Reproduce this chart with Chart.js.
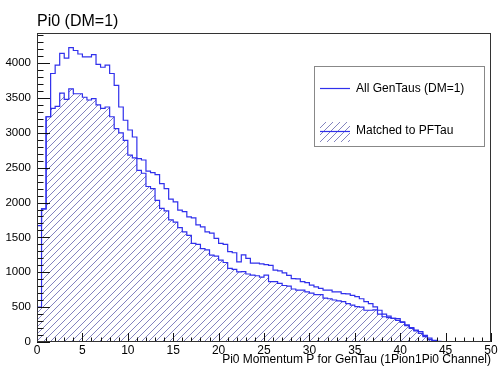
<!DOCTYPE html>
<html><head><meta charset="utf-8">
<script src="https://cdn.jsdelivr.net/npm/chart.js@4.4.1/dist/chart.umd.min.js"></script>
<style>html,body{margin:0;padding:0;background:#fff;}#wrap{width:499px;height:368px;}</style>
</head><body><div id="wrap"><canvas id="c" width="499" height="368"></canvas></div>
<script>
// ---- data ----
const chartTitle = 'Pi0 (DM=1)';
const xAxisTitle = 'Pi0 Momentum P for GenTau (1Pion1Pi0 Channel)';
const seriesLabels = ['All GenTaus (DM=1)', 'Matched to PFTau'];
const binLowEdges = [0,0.5,1,1.5,2,2.5,3,3.5,4,4.5,5,5.5,6,6.5,7,7.5,8,8.5,9,9.5,
 10,10.5,11,11.5,12,12.5,13,13.5,14,14.5,15,15.5,16,16.5,17,17.5,18,18.5,19,19.5,
 20,20.5,21,21.5,22,22.5,23,23.5,24,24.5,25,25.5,26,26.5,27,27.5,28,28.5,29,29.5,
 30,30.5,31,31.5,32,32.5,33,33.5,34,34.5,35,35.5,36,36.5,37,37.5,38,38.5,39,39.5,
 40,40.5,41,41.5,42,42.5,43,43.5,44,44.5,45,45.5,46,46.5,47,47.5,48,48.5,49,49.5];
const lastBinUpEdge = 50;
const allGenTaus = [1670,1910,3230,3850,3970,4140,4070,4220,4180,4130,
 4090,4090,4120,3980,3940,3970,3850,3680,3370,3180,
 3040,2940,2630,2610,2450,2430,2400,2270,2200,2050,
 2010,1890,1870,1795,1780,1680,1650,1580,1560,1485,
 1415,1400,1295,1280,1150,1250,1200,1130,1130,1120,
 1110,1100,1030,1020,990,955,910,905,865,850,
 815,790,770,745,745,720,720,695,690,670,
 650,620,580,550,505,455,400,370,340,335,
 290,245,205,170,150,96,55,22,9,5,
 3,2,1,1,0,1,0,0,0,0];
const matchedPFTau = [500,1910,3230,3350,3380,3570,3480,3630,3560,3560,
 3510,3470,3490,3400,3350,3370,3230,3060,3000,2890,
 2680,2640,2460,2420,2230,2200,2030,1915,1880,1750,
 1720,1640,1580,1530,1415,1400,1340,1320,1245,1230,
 1175,1140,1055,1040,1007,1010,975,960,950,930,
 960,865,865,840,810,800,760,745,745,720,
 700,680,680,630,620,602,590,580,550,530,
 506,500,455,455,460,400,362,350,340,311,
 280,235,196,160,125,76,34,15,5,3,
 2,1,0,1,0,0,0,0,0,0];
const xTickValues = [0,5,10,15,20,25,30,35,40,45,50];
const yTickValues = [0,500,1000,1500,2000,2500,3000,3500,4000];
const xRange = [0, 50];
const yRange = [0, 4431];

// ---- helpers ----
const FONT = '"Liberation Sans", Arial, Helvetica, sans-serif';
const LINE_BLUE = '#3030ec';
function steps(vals){
  const pts = [{x: binLowEdges[0], y: 0}];
  vals.forEach((v,i)=>pts.push({x: binLowEdges[i], y: v}));
  pts.push({x: lastBinUpEdge, y: vals[vals.length-1]});
  return pts;
}
const canvas = document.getElementById('c');
const mainCtx = canvas.getContext('2d');
function makeHatch(){
  const s = 7;
  const c = document.createElement('canvas'); c.width = s; c.height = s;
  const g = c.getContext('2d');
  g.strokeStyle = 'rgba(70,70,160,0.75)'; g.lineWidth = 0.9;
  g.beginPath();
  g.moveTo(-1, s+1); g.lineTo(s+1, -1);
  g.moveTo(-2, 2); g.lineTo(2, -2);
  g.moveTo(s-2, s+2); g.lineTo(s+2, s-2);
  g.stroke();
  return mainCtx.createPattern(c, 'repeat');
}
const hatch = makeHatch();

const rootStyle = {
  id: 'rootStyle',
  afterDraw(chart){
    const {ctx, chartArea: a, scales: {x, y}} = chart;
    ctx.save();
    // ticks
    ctx.strokeStyle = '#111'; ctx.lineWidth = 1;
    ctx.beginPath();
    for (let v = 0; v <= yRange[1]; v += 100){
      const py = Math.round(y.getPixelForValue(v)) + 0.5;
      const len = (v % 500 === 0) ? 13 : 6.5;
      ctx.moveTo(a.left, py); ctx.lineTo(a.left + len, py);
    }
    for (let v = xRange[0]; v <= xRange[1]; v += 1){
      const px = Math.round(x.getPixelForValue(v)) + 0.5;
      const len = (v % 5 === 0) ? 9 : 4.5;
      ctx.moveTo(px, a.bottom); ctx.lineTo(px, a.bottom - len);
    }
    ctx.stroke();
    // frame
    ctx.strokeStyle = '#333';
    ctx.strokeRect(a.left + 0.5, a.top + 0.5, a.right - a.left - 1, a.bottom - a.top - 1);
    // title
    ctx.fillStyle = '#000';
    ctx.font = '16px ' + FONT;
    ctx.textBaseline = 'alphabetic'; ctx.textAlign = 'left';
    ctx.fillText(chartTitle, 37, 26);
    // legend
    const L = {x: 314, y: 66, w: 171, h: 81};
    ctx.fillStyle = '#fff'; ctx.fillRect(L.x, L.y, L.w, L.h);
    ctx.strokeStyle = '#888'; ctx.strokeRect(L.x + 0.5, L.y + 0.5, L.w - 1, L.h - 1);
    ctx.strokeStyle = LINE_BLUE; ctx.lineWidth = 1.2;
    ctx.beginPath(); ctx.moveTo(320, 88.5); ctx.lineTo(350, 88.5); ctx.stroke();
    ctx.fillStyle = hatch; ctx.fillRect(320, 122, 30, 20);
    ctx.beginPath(); ctx.moveTo(320, 131.5); ctx.lineTo(350, 131.5); ctx.stroke();
    ctx.fillStyle = '#000'; ctx.font = '12px ' + FONT; ctx.textBaseline = 'middle';
    ctx.fillText(seriesLabels[0], 356, 89);
    ctx.fillText(seriesLabels[1], 356, 131);
    ctx.restore();
  }
};

new Chart(canvas, {
  type: 'line',
  data: {
    datasets: [
      {label: seriesLabels[0], data: steps(allGenTaus), stepped: 'before', borderColor: LINE_BLUE,
       borderWidth: 1.2, pointRadius: 0, fill: false, order: 1},
      {label: seriesLabels[1], data: steps(matchedPFTau), stepped: 'before', borderColor: LINE_BLUE,
       borderWidth: 1.2, pointRadius: 0, fill: 'origin', backgroundColor: hatch, order: 2}
    ]
  },
  options: {
    responsive: false, animation: false, devicePixelRatio: 1,
    layout: {padding: {left: 0, right: 8, top: 33, bottom: 0}},
    plugins: {legend: {display: false}, title: {display: false}, tooltip: {enabled: false}},
    scales: {
      x: {type: 'linear', min: xRange[0], max: xRange[1],
          afterBuildTicks(s){ s.ticks = xTickValues.map(v => ({value: v})); },
          ticks: {color: '#000', font: {family: FONT, size: 12}, padding: 1, maxRotation: 0, autoSkip: false,
                  callback: v => String(v)},
          grid: {display: false, drawTicks: false}, border: {display: false},
          title: {display: true, text: xAxisTitle, align: 'end', color: '#000',
                  font: {family: FONT, size: 12, lineHeight: 1}, padding: {top: 0, bottom: 2}},
          afterFit(s){ s.height = 26; }},
      y: {type: 'linear', min: yRange[0], max: yRange[1],
          afterBuildTicks(s){ s.ticks = yTickValues.map(v => ({value: v})); },
          ticks: {color: '#000', font: {family: FONT, size: 11.5}, padding: 6, autoSkip: false,
                  callback: v => String(v)},
          grid: {display: false, drawTicks: false}, border: {display: false},
          afterFit(s){ s.width = 37; }}
    }
  },
  plugins: [rootStyle]
});
</script></body></html>
